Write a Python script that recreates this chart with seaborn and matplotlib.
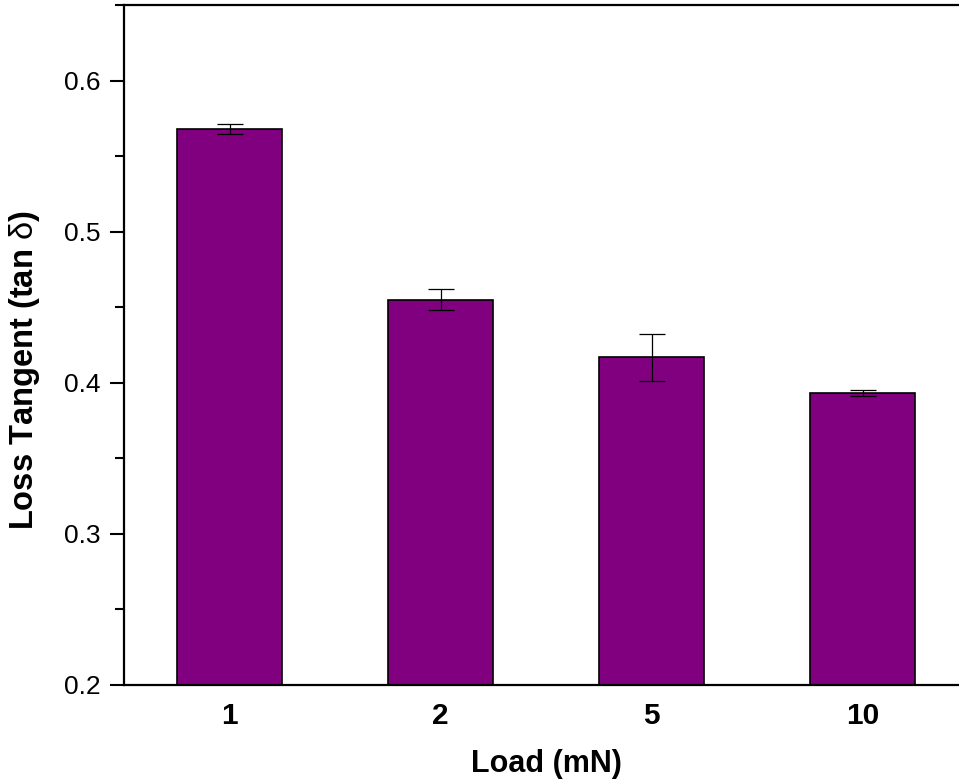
import matplotlib
matplotlib.use("Agg")
import matplotlib.pyplot as plt
from matplotlib.ticker import MultipleLocator
import seaborn as sns
import pandas as pd

loads = ["1", "2", "5", "10"]
loss_tangent = [0.568, 0.455, 0.417, 0.3935]
loss_err = [0.0035, 0.007, 0.0155, 0.002]

sns.set_style("ticks")
plt.rcParams["font.family"] = ["Liberation Sans", "DejaVu Sans"]
plt.rcParams["mathtext.fontset"] = "custom"
plt.rcParams["mathtext.rm"] = "Liberation Sans"
plt.rcParams["text.color"] = "black"
plt.rcParams["axes.labelcolor"] = "black"
plt.rcParams["xtick.color"] = "black"
plt.rcParams["ytick.color"] = "black"

df = pd.DataFrame({"Load": loads, "tan": loss_tangent})

fig = plt.figure(figsize=(9.59, 7.80), dpi=100)
ax = fig.add_axes([124 / 959, 1 - 685 / 780, 844 / 959, 680 / 780])

sns.barplot(data=df, x="Load", y="tan", order=loads, color="#800080",
            saturation=1, width=0.5, edgecolor="black", linewidth=1.2,
            errorbar=None, ax=ax)
ax.errorbar(range(len(loads)), loss_tangent, yerr=loss_err, fmt="none",
            ecolor="black", elinewidth=0.9, capsize=9.5, capthick=0.9, zorder=5)

ax.set_xlim(-0.5, 3.5)
ax.set_ylim(0.2, 0.65)
ax.yaxis.set_major_locator(MultipleLocator(0.1))
ax.yaxis.set_minor_locator(MultipleLocator(0.05))

for side in ["left", "bottom", "top", "right"]:
    ax.spines[side].set_visible(True)
    ax.spines[side].set_linewidth(1.6)
    ax.spines[side].set_color("black")

ax.tick_params(axis="y", which="major", direction="out", length=10, width=1.5,
               labelsize=19, pad=7, colors="black")
ax.tick_params(axis="y", which="minor", direction="out", length=6.5, width=1.5)
ax.tick_params(axis="x", length=0, labelsize=21.5, pad=12, colors="black")
for lbl in ax.get_xticklabels():
    lbl.set_fontweight("bold")

ax.set_xlabel("Load (mN)", fontsize=22, fontweight="bold", labelpad=14)
ax.set_ylabel(r"Loss Tangent (tan $\mathrm{\delta}$)", fontsize=23.5,
              fontweight="bold")
ax.yaxis.set_label_coords(-0.097, 0.463)

fig.savefig("out.png", dpi=100)
